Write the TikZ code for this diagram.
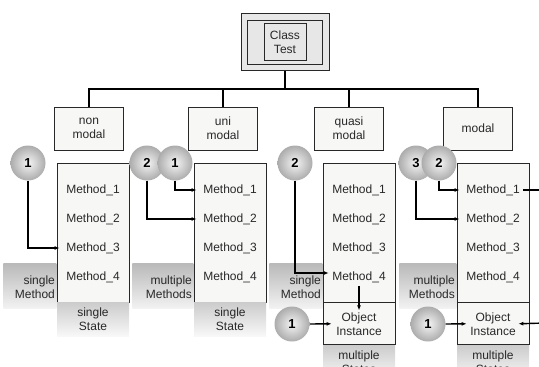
\documentclass[tikz,border=0pt]{standalone}
\usepackage{fontspec}
\setmainfont{Liberation Sans}
\usetikzlibrary{%
    arrows.meta,
    backgrounds,
    calc,
    positioning
}
\definecolor{boxfill}{RGB}{247,248,246}
\definecolor{framefill}{RGB}{231,231,231}
\definecolor{inkgray}{RGB}{40,40,40}
\tikzset{
    classbox/.style = {draw=inkgray, line width=.8pt, fill=framefill, inner sep=0pt, align=center},
    catbox/.style = {draw=inkgray, line width=.7pt, fill=boxfill, minimum width=69pt,
        minimum height=43pt, inner sep=0pt, align=center},
    methodbox/.style = {draw=inkgray, line width=.8pt, fill=boxfill, minimum width=72pt,
        minimum height=139pt, inner sep=0pt, align=center},
    sidebar/.style = {top color=gray!55, bottom color=gray!10, minimum height=45pt, inner sep=0pt},
    statebar/.style = {top color=gray!40, bottom color=gray!5, minimum width=72pt,
        minimum height=34pt, inner sep=0pt, align=center},
    bullet/.style = {circle, minimum size=35pt, inner sep=0pt, inner color=gray!8,
        outer color=gray!65, font=\fontsize{13}{15}\selectfont\bfseries, text=black},
    treeline/.style = {line width=2.5pt},
    ptrline/.style = {line width=1.4pt},
    ptrarrow/.style = {ptrline, -{Latex[length=5pt,width=4pt]}}
}

\begin{document}
\begin{tikzpicture}[x=1pt, y=-1pt, font=\fontsize{12}{14}\selectfont, text=inkgray]
    \useasboundingbox (0,0) rectangle (539,367);
    \clip (0,0) rectangle (539,367);

    % class under test
    \foreach \name/\w/\h in {classouter/88/57, classmid/75/44}
        \node[classbox, minimum width=\w pt, minimum height=\h pt] (\name) at (285,42) {};
    \node[classbox, minimum width=42pt, minimum height=37pt] (classtest) at (285,42) {Class\\Test};

    % kinds of modality
    \foreach \name/\x/\txt in {%
        nonmodal/89/{non\\modal},
        unimodal/223/{uni\\modal},
        quasimodal/349/{quasi\\modal},
        modal/478/{modal}}
            \node[catbox] (\name) at (\x,128.5) {\txt};
    \coordinate (hub) at ($(classouter.south)+(0,18)$);
    \draw[treeline] (classouter.south) -- (hub);
    \foreach \name in {nonmodal,unimodal,quasimodal,modal}
        \draw[treeline] (hub) -| (\name.north);

    % method tables
    \foreach \c/\x in {1/93, 2/230, 3/359, 4/493}
        {
        \node[methodbox] (mbox\c) at (\x,232.5) {};
        \foreach \i in {1,...,4}
            \node (m\c-\i) at (\x,161+29*\i) {Method\_\i};
        }

    \begin{scope}[on background layer]
        \foreach \c/\w in {1/53, 2/61, 3/53, 4/57}
            \node[sidebar, minimum width=\w pt, anchor=north east] (side\c) at (mbox\c.west |- 0,263) {};
    \end{scope}
    \foreach \c/\txt in {1/{single\\Method}, 2/{multiple\\Methods}, 3/{single\\Method}, 4/{multiple\\Methods}}
        \node[anchor=east, align=right, inner xsep=1.5pt] at ([yshift=-2pt]side\c.east) {\txt};

    \foreach \c in {1,2}
        \node[statebar, below=0pt of mbox\c] (state\c) {single\\State};
    \foreach \c in {3,4}
        {
        \node[methodbox, minimum height=42pt, below=0pt of mbox\c] (obj\c) {Object\\Instance};
        \node[statebar, below=0pt of obj\c] (state\c) {multiple\\States};
        }

    % numbered pointers
    \foreach \n/\x/\y/\num in {%
        1-1/28/163/1,
        2-2/147/163/2,
        2-1/175/163/1,
        3-2/295/163/2,
        3-1/292/324/1,
        4-3/416/163/3,
        4-2/439/163/2,
        4-1/428/324/1}
            \node[bullet] (n\n) at (\x,\y) {\num};

    \draw[ptrarrow] (n1-1.south) |- ([xshift=3pt]mbox1.west |- m1-3);
    \draw[ptrarrow] (n2-1.south) |- ([xshift=3pt]mbox2.west |- m2-1);
    \draw[ptrarrow] (n2-2.south) |- ([xshift=3pt]mbox2.west |- m2-2);
    \draw[ptrarrow] (n3-2.south) |- ([yshift=4pt]m3-4.west);
    \draw[ptrarrow] (m3-4.south) -- ([yshift=-8pt]obj3.north);
    \draw[ptrarrow] (n3-1.east) -- ([xshift=9pt]obj3.west);
    \draw[ptrarrow] (n4-2.south) |- ([xshift=3pt]mbox4.west |- m4-1);
    \draw[ptrarrow] (n4-3.south) |- ([xshift=3pt]mbox4.west |- m4-2);
    \draw[ptrarrow] (n4-1.east) -- ([xshift=10pt]obj4.west);
    \coordinate (out1) at (545,190);
    \coordinate (out2) at (545,323);
    \draw[ptrline] (m4-1.east) -- (out1);
    \draw[ptrarrow] (out2) -- ([xshift=-11pt]obj4.east);
\end{tikzpicture}
\end{document}
